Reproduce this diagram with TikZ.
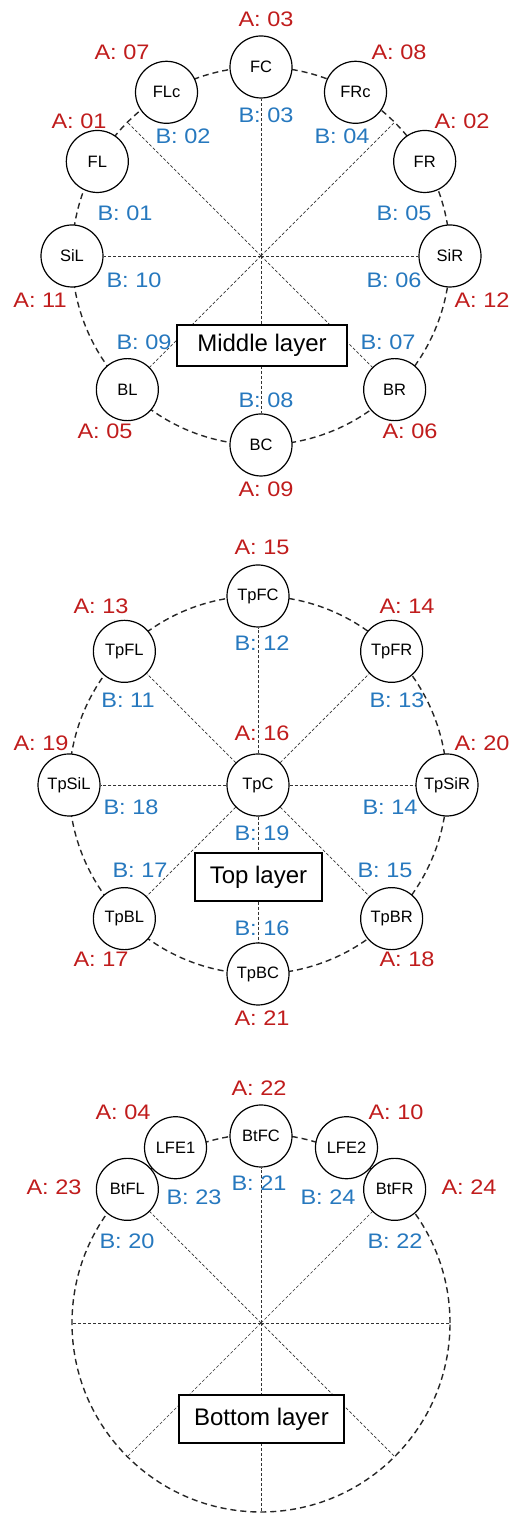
\documentclass[tikz,border=0pt]{standalone}
\usepackage{fontspec}
\setmainfont{Liberation Sans}
\newfontfamily\labfont[FakeStretch=1.12]{Liberation Sans}
\definecolor{ared}{RGB}{192,28,28}
\definecolor{bblue}{RGB}{38,120,190}
\pgfdeclarelayer{bg}
\pgfsetlayers{bg,main}
\tikzset{
  spk/.style={dash pattern=on 3pt off 2pt, line width=0.7pt, black!80},
  ring/.style={dash pattern=on 6pt off 4pt, line width=1.4pt, black!85},
  spot/.style={circle, draw, fill=white, line width=1.2pt, minimum size=62pt, inner sep=0pt, font=\fontsize{16.5}{18}\selectfont},
  lay/.style={draw, fill=white, line width=1.3pt, inner sep=0pt, font=\fontsize{24}{28}\selectfont},
  alab/.style={text=ared, inner sep=0pt, text height=15pt, text depth=0pt, font=\labfont\fontsize{21}{24}\selectfont},
  blab/.style={text=bblue, inner sep=0pt, text height=15pt, text depth=0pt, font=\labfont\fontsize{21}{24}\selectfont}
}
\begin{document}
\begin{tikzpicture}[x=1pt,y=1pt]
\useasboundingbox (0,0) rectangle (514,1514);
% ---------- Middle layer ----------
\coordinate (M) at (261,1258);
\node[spot] (FC)  at ([shift={(90:189)}]M) {FC};
\node[spot] (FLc) at ([shift={(120:189)}]M) {FLc};
\node[spot] (FRc) at ([shift={(60:189)}]M) {FRc};
\node[spot] (FL)  at ([shift={(150:189)}]M) {FL};
\node[spot] (FR)  at ([shift={(30:189)}]M) {FR};
\node[spot] (SiL) at ([shift={(180:189)}]M) {SiL};
\node[spot] (SiR) at ([shift={(0:189)}]M) {SiR};
\node[spot] (BL)  at ([shift={(225:189)}]M) {BL};
\node[spot] (BR)  at ([shift={(315:189)}]M) {BR};
\node[spot] (BC)  at ([shift={(270:189)}]M) {BC};
\coordinate (M45) at ([shift={(45:189)}]M);
\coordinate (M135) at ([shift={(135:189)}]M);
\node[lay, minimum width=170pt, minimum height=41pt] (midbox) at (262,1168.5) {Middle layer};
\begin{pgfonlayer}{bg}
\draw[ring] (M) circle[radius=189];
\foreach \t in {FC,SiL,SiR,BL,BR,BC,M45,M135} \draw[spk] (M) -- (\t);
\end{pgfonlayer}
% ---------- Top layer ----------
\coordinate (T) at (258,729);
\node[spot] (TpC)   at (T) {TpC};
\node[spot] (TpFC)  at ([shift={(90:189)}]T) {TpFC};
\node[spot] (TpFL)  at ([shift={(135:189)}]T) {TpFL};
\node[spot] (TpFR)  at ([shift={(45:189)}]T) {TpFR};
\node[spot] (TpSiL) at ([shift={(180:189)}]T) {TpSiL};
\node[spot] (TpSiR) at ([shift={(0:189)}]T) {TpSiR};
\node[spot] (TpBL)  at ([shift={(225:189)}]T) {TpBL};
\node[spot] (TpBR)  at ([shift={(315:189)}]T) {TpBR};
\node[spot] (TpBC)  at ([shift={(270:189)}]T) {TpBC};
\node[lay, minimum width=127pt, minimum height=48pt] (topbox) at (258.5,637) {Top layer};
\begin{pgfonlayer}{bg}
\draw[ring] (T) circle[radius=189];
\foreach \t in {TpFC,TpFL,TpFR,TpSiL,TpSiR,TpBL,TpBR,TpBC} \draw[spk] (TpC) -- (\t);
\end{pgfonlayer}
% ---------- Bottom layer ----------
\coordinate (Bt) at (261,191);
\node[spot] (BtFC) at ([shift={(90:187)}]Bt) {BtFC};
\node[spot] (LFE1) at ([shift={(116:195)}]Bt) {LFE1};
\node[spot] (LFE2) at ([shift={(64:195)}]Bt) {LFE2};
\node[spot] (BtFL) at ([shift={(135:189)}]Bt) {BtFL};
\node[spot] (BtFR) at ([shift={(45:189)}]Bt) {BtFR};
\coordinate (Bt0) at ([shift={(0:189)}]Bt);
\coordinate (Bt180) at ([shift={(180:189)}]Bt);
\coordinate (Bt225) at ([shift={(225:189)}]Bt);
\coordinate (Bt270) at ([shift={(270:189)}]Bt);
\coordinate (Bt315) at ([shift={(315:189)}]Bt);
\node[lay, minimum width=165pt, minimum height=48pt] (botbox) at (261.5,95) {Bottom layer};
\begin{pgfonlayer}{bg}
\draw[ring] (Bt) circle[radius=189];
\foreach \t in {BtFC,BtFL,BtFR,Bt0,Bt180,Bt225,Bt270,Bt315} \draw[spk] (Bt) -- (\t);
\end{pgfonlayer}
% ---------- Labels ----------
\foreach \n/\x/\y in {03/266/1495, 07/122/1462, 08/399/1462, 01/79/1393, 02/462/1393,
  11/40/1214, 12/482/1214, 05/105/1083, 06/410/1083, 09/266/1025,
  15/262/967, 13/101/908, 14/407/908, 16/262/781, 19/41/771, 20/482/771,
  17/101/555, 18/407/555, 21/262/496,
  22/259/426, 04/123/402, 10/396/402, 23/54/327, 24/469/327}
  \node[alab] (a\n) at (\x,\y) {A: \n};
\foreach \n/\x/\y in {03/266/1399, 02/183/1378, 04/342/1378, 01/125/1301, 05/404/1301,
  10/134/1234, 06/394/1234, 09/144/1172, 07/388/1172, 08/266/1114,
  12/262/871, 11/128/814, 13/397/814, 18/131/707, 14/390/707, 19/262/681,
  17/140/644, 15/385/644, 16/262/586,
  21/259/331, 23/194/317, 24/328/317, 20/127/273, 22/395/273}
  \node[blab] (b\n) at (\x,\y) {B: \n};
\end{tikzpicture}
\end{document}
